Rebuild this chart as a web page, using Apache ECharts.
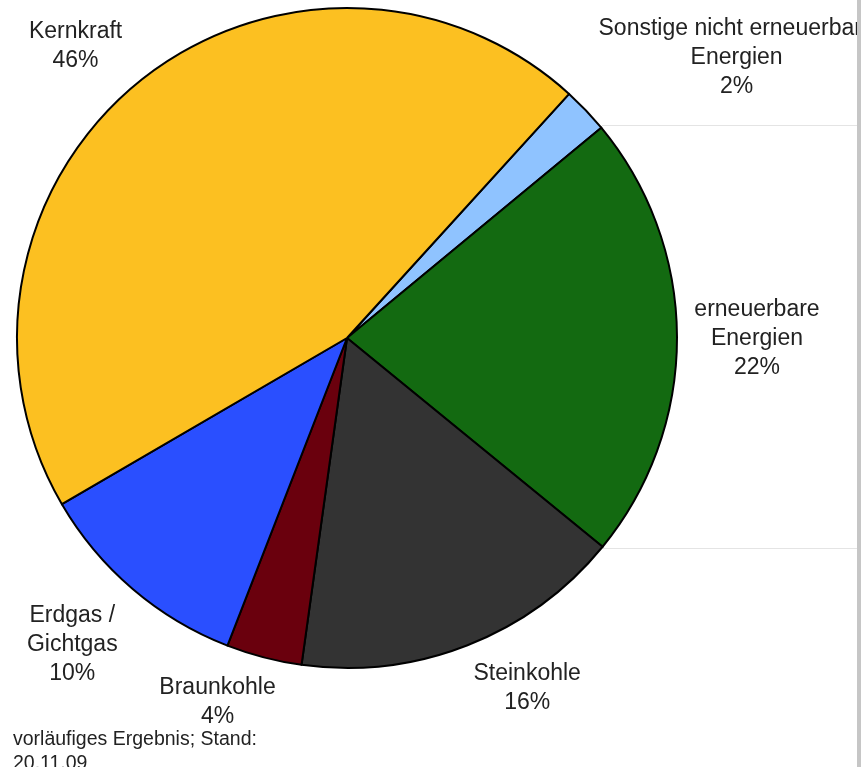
<!DOCTYPE html>
<html>
<head>
<meta charset="utf-8">
<style>
  html, body { margin: 0; padding: 0; background: #ffffff; }
  #chart { width: 861px; height: 767px; }
</style>
<script src="https://cdn.jsdelivr.net/npm/echarts@6/dist/echarts.min.js"></script>
</head>
<body>
<div id="chart"></div>
<script>
// ---- data (clockwise from the top-right boundary) ----
const categories = [
  'Sonstige nicht erneuerbare\nEnergien',
  'erneuerbare\nEnergien',
  'Steinkohle',
  'Braunkohle',
  'Erdgas /\nGichtgas',
  'Kernkraft'
];
const shares = [2.25, 21.9, 16.3, 3.7, 10.7, 45.15];
const percentLabels = ['2%', '22%', '16%', '4%', '10%', '46%'];
const footnote = 'vorläufiges Ergebnis; Stand:\n20.11.09';

// ---- styling / layout config ----
const colors = ['#8fc3ff', '#136a11', '#333333', '#6a000d', '#2a4fff', '#fcc021'];
const labelNudges = [[98, -2], [7, 2], [33, -25], [-28, -26], [-13, 0], [-18, 21]];
const FONT = '"Liberation Sans", Arial, Helvetica, sans-serif';

const chart = echarts.init(document.getElementById('chart'), null, { renderer: 'canvas' });

const pieData = categories.map((c, i) => ({
  name: c,
  value: shares[i],
  itemStyle: { color: colors[i] }
}));

const labelData = categories.map((c, i) => ({
  name: c,
  value: shares[i]
}));

chart.setOption({
  animation: false,
  backgroundColor: '#ffffff',
  title: {
    text: footnote,
    left: 8,
    top: 723,
    textStyle: {
      fontFamily: FONT,
      fontSize: 19.5,
      fontWeight: 'normal',
      lineHeight: 24,
      color: '#222222'
    }
  },
  series: [
    {
      type: 'pie',
      center: [347, 338],
      radius: [0, 330],
      startAngle: 47.7,
      clockwise: true,
      silent: true,
      label: { show: false },
      labelLine: { show: false },
      itemStyle: { borderColor: '#000000', borderWidth: 2 },
      emphasis: { disabled: true },
      data: pieData,
      z: 2
    },
    {
      type: 'pie',
      center: [347, 338],
      radius: [0, 800],
      startAngle: 47.7,
      clockwise: true,
      silent: true,
      itemStyle: { color: 'rgba(0,0,0,0)', borderWidth: 0 },
      emphasis: { disabled: true },
      label: {
        show: true,
        position: 'inside',
        fontFamily: FONT,
        fontSize: 23,
        lineHeight: 29,
        color: '#222222',
        align: 'center',
        formatter: p => p.name + '\n' + percentLabels[p.dataIndex]
      },
      labelLine: { show: false },
      labelLayout: p => ({ dx: labelNudges[p.dataIndex][0], dy: labelNudges[p.dataIndex][1] }),
      data: labelData,
      z: 1
    }
  ],
  graphic: [
    { type: 'line', z: 0, shape: { x1: 602, y1: 125.5, x2: 857, y2: 125.5 }, style: { stroke: '#e4e4e4', lineWidth: 1 } },
    { type: 'line', z: 0, shape: { x1: 602, y1: 548.5, x2: 857, y2: 548.5 }, style: { stroke: '#e4e4e4', lineWidth: 1 } },
    { type: 'rect', z: 100, shape: { x: 857, y: 0, width: 4, height: 767 }, style: { fill: '#c6c6c6' } }
  ]
});
</script>
</body>
</html>
